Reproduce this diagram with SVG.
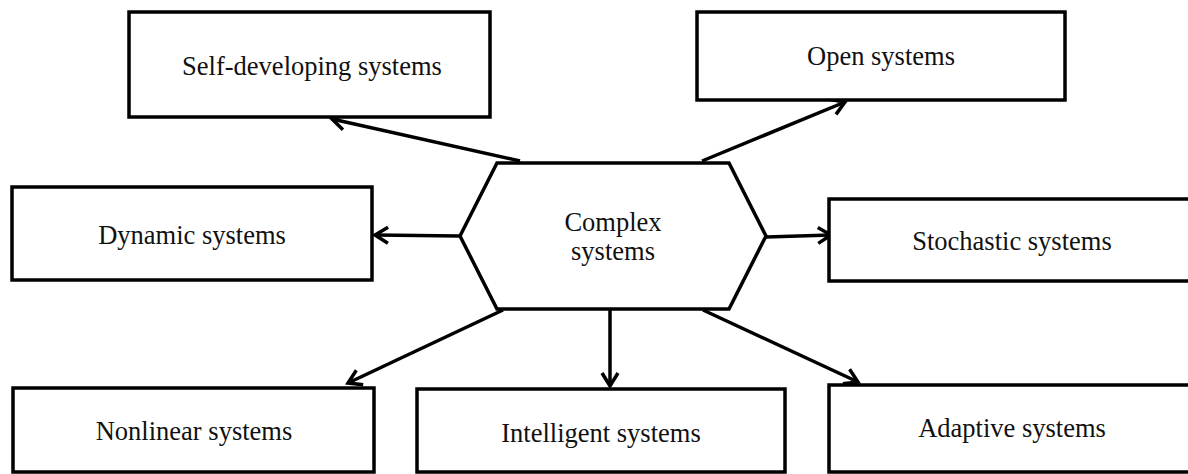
<svg xmlns="http://www.w3.org/2000/svg" width="1188" height="474" viewBox="0 0 1188 474">
<style>
.box{fill:#fff;stroke:#000;stroke-width:3.5}
.lbl{font-family:"Liberation Serif","Times New Roman",serif;font-size:26.5px;fill:#111;text-anchor:middle}
.con{stroke:#000;stroke-width:3.5;fill:none;marker-end:url(#ah)}
</style>
<defs>
<marker id="ah" markerUnits="userSpaceOnUse" markerWidth="30" markerHeight="30" viewBox="-20 -15 30 30" refX="0" refY="0" orient="auto">
<path d="M -13 -8 L 0 0 L -13 8" fill="none" stroke="#000" stroke-width="3.5"/>
</marker>
</defs>
<rect width="1188" height="474" fill="#fff"/>
<g id="connectors">
<line class="con" x1="520" y1="161" x2="332" y2="119"/>
<line class="con" x1="702" y1="161" x2="845" y2="102"/>
<line class="con" x1="460" y1="236" x2="375" y2="235"/>
<line class="con" x1="766" y1="237" x2="831" y2="235"/>
<line class="con" x1="503" y1="310" x2="348" y2="383"/>
<line class="con" x1="610" y1="310" x2="610" y2="386"/>
<line class="con" x1="703" y1="310" x2="858" y2="382"/>
</g>
<g id="complex">
<polygon class="box" points="497,163 729,163 766,236 729,309 497,309 460,236"/>
<text class="lbl" x="613" y="231">Complex</text>
<text class="lbl" x="613" y="260">systems</text>
</g>
<g id="self-developing">
<rect class="box" x="129" y="12" width="361" height="105"/>
<text class="lbl" x="312" y="75">Self-developing systems</text>
</g>
<g id="open">
<rect class="box" x="697" y="12" width="368" height="88"/>
<text class="lbl" x="881" y="65">Open systems</text>
</g>
<g id="dynamic">
<rect class="box" x="12" y="187" width="360" height="93"/>
<text class="lbl" x="192" y="244">Dynamic systems</text>
</g>
<g id="stochastic">
<rect class="box" x="829" y="199" width="370" height="82"/>
<text class="lbl" x="1012" y="250">Stochastic systems</text>
</g>
<g id="nonlinear">
<rect class="box" x="13" y="388" width="361" height="84"/>
<text class="lbl" x="194" y="440">Nonlinear systems</text>
</g>
<g id="intelligent">
<rect class="box" x="417" y="389" width="368" height="83"/>
<text class="lbl" x="601" y="442">Intelligent systems</text>
</g>
<g id="adaptive">
<rect class="box" x="829" y="385" width="370" height="87"/>
<text class="lbl" x="1012" y="437">Adaptive systems</text>
</g>
</svg>
